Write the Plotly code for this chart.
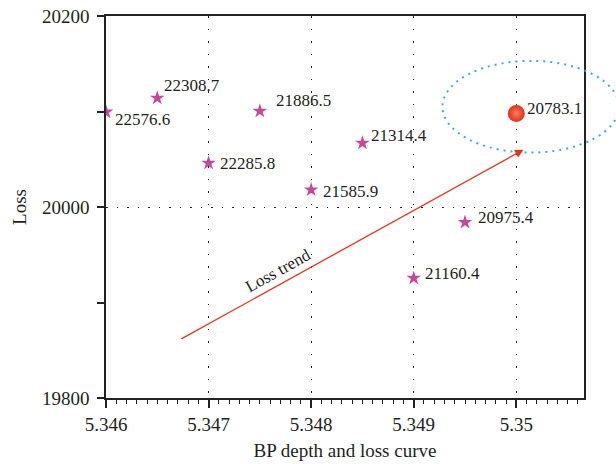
import plotly.graph_objects as go

# data
depth = [5.346, 5.3465, 5.347, 5.3475, 5.348, 5.3485, 5.349, 5.3495]
loss = [20099.5, 20114, 20046, 20100.5, 20018, 20067, 19925.5, 19984]
labels = ["22576.6", "22308.7", "22285.8", "21886.5", "21585.9", "21314.4", "21160.4", "20975.4"]
best_depth = [5.35]
best_loss = [20098]
best_label = ["20783.1"]

x_range = [5.346, 5.35066]
y_range = [19800, 20200]

# trend arrow (data units) and highlight ellipse (data units)
trend_start = (5.34672, 19861)
trend_end = (5.35007, 20060)
ellipse_x = (5.34928, 5.35100)
ellipse_y = (20057, 20153)

FONT = "Liberation Serif"
TXT = "#231f20"
AX = "#222222"

fig = go.Figure()
fig.add_trace(go.Scatter(
    x=depth, y=loss, mode="markers",
    marker=dict(symbol="star", size=11, color="#c4489c", line=dict(width=0)),
    hoverinfo="skip", showlegend=False))
fig.add_trace(go.Scatter(
    x=best_depth, y=best_loss, mode="markers",
    marker=dict(symbol="circle", size=17, color="#e0301a",
                gradient=dict(type="radial", color="#ff7a5c"), line=dict(width=0)),
    hoverinfo="skip", showlegend=False))

# label offsets (pixels) per point
offs = [(7, -8), (5, 13), (9, 0), (14, 11), (10, -2), (7, 8), (9, 5), (11, 5)]
for xv, yv, t, (dx, dy) in zip(depth, loss, labels, offs):
    fig.add_annotation(x=xv, y=yv, text=t, showarrow=False, xanchor="left",
                       yanchor="middle", xshift=dx, yshift=dy,
                       font=dict(family=FONT, size=17, color=TXT))
for xv, yv, t in zip(best_depth, best_loss, best_label):
    fig.add_annotation(x=xv, y=yv, text=t, showarrow=False, xanchor="left",
                       yanchor="middle", xshift=9, yshift=5,
                       font=dict(family=FONT, size=17, color=TXT))

# trend arrow
fig.add_annotation(x=trend_end[0], y=trend_end[1], ax=trend_start[0], ay=trend_start[1],
                   xref="x", yref="y", axref="x", ayref="y", text="",
                   showarrow=True, arrowhead=2, arrowsize=1.3, arrowwidth=1.3,
                   arrowcolor="#e8341c")
fig.add_annotation(x=5.34768, y=19934, text="Loss trend", showarrow=False,
                   textangle=-29, font=dict(family=FONT, size=17, color=TXT))

# ellipse in paper coordinates (so it is not clipped by the plot area)
def px(v):
    return (v - x_range[0]) / (x_range[1] - x_range[0])
def py(v):
    return (v - y_range[0]) / (y_range[1] - y_range[0])
fig.add_shape(type="circle", xref="paper", yref="paper",
              x0=px(ellipse_x[0]), x1=px(ellipse_x[1]),
              y0=py(ellipse_y[0]), y1=py(ellipse_y[1]),
              line=dict(color="#3fa9e0", width=2, dash="2px,5px"))

fig.update_layout(
    xaxis=dict(range=x_range, tickmode="linear", tick0=5.346, dtick=0.001,
               tickformat=".3~f",
               ticks="outside", ticklen=8, tickwidth=1.5, tickcolor=AX,
               minor=dict(ticks="outside", dtick=0.0001, ticklen=4, tickwidth=1.3,
                          tickcolor=AX, showgrid=False),
               showline=True, linecolor=AX, linewidth=1.5, mirror=True,
               showgrid=True, gridcolor="#222", gridwidth=1.3, griddash="1.5px,11px",
               zeroline=False, automargin=False,
               tickfont=dict(family=FONT, size=19, color=TXT),
               title=dict(text="BP depth and loss curve", standoff=10,
                          font=dict(family=FONT, size=19, color=TXT))),
    yaxis=dict(range=y_range, tickmode="linear", tick0=19800, dtick=200,
               tickformat="d",
               ticks="outside", ticklen=7, tickwidth=1.5, tickcolor=AX,
               minor=dict(ticks="outside", dtick=100, ticklen=7, tickwidth=1.5,
                          tickcolor=AX, showgrid=False),
               showline=True, linecolor=AX, linewidth=1.5, mirror=True,
               showgrid=True, gridcolor="#222", gridwidth=1.3, griddash="1.5px,9px",
               zeroline=False, ticklabelstandoff=4, automargin=False,
               tickfont=dict(family=FONT, size=19, color=TXT),
               title=dict(text="Loss", standoff=10,
                          font=dict(family=FONT, size=19, color=TXT))),
    width=616, height=464, margin=dict(l=106, r=32, t=16, b=66),
    plot_bgcolor="white", paper_bgcolor="white", showlegend=False)

fig.write_html("out.html", config={"displayModeBar": False},
               post_script="document.body.style.margin='0';document.body.style.overflow='hidden';")
